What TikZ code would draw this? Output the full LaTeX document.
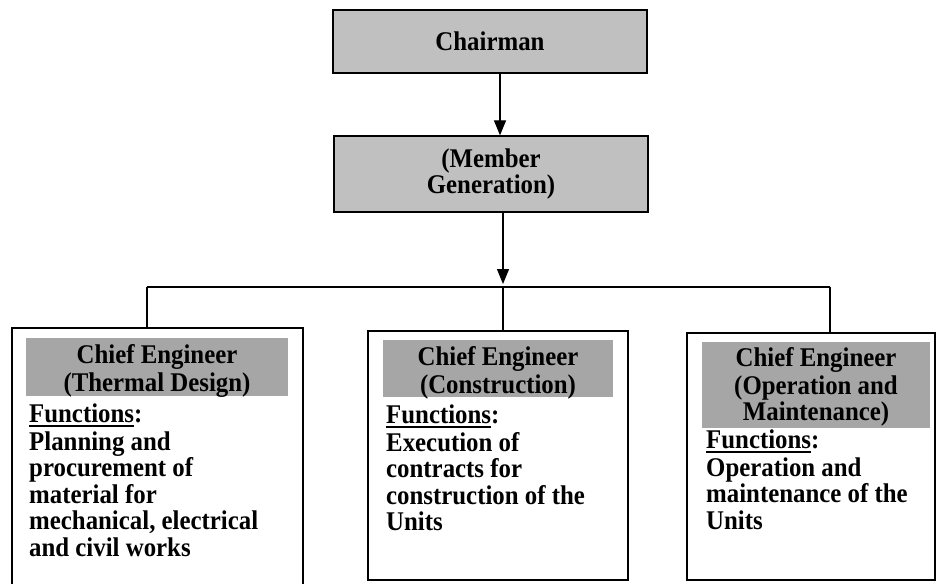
\documentclass[tikz,border=0pt]{standalone}
\usepackage{fontspec}
\setmainfont{Liberation Serif}[FakeStretch=0.92]
\usetikzlibrary{arrows.meta}
\definecolor{topgray}{HTML}{C0C0C0}
\definecolor{hdrgray}{HTML}{A6A6A6}
\newcommand\myul[1]{\setbox0\hbox{#1}\rlap{\rule[-4.5pt]{\wd0}{2.2pt}}\box0}
\begin{document}
\begin{tikzpicture}[x=1pt,y=-1pt,
  txt/.style={font=\bfseries\fontsize{27}{26.5}\selectfont, inner sep=0pt},
  topbox/.style={draw, line width=1.3pt, fill=topgray, inner sep=0pt, align=center,
                 font=\bfseries\fontsize{27}{26}\selectfont},
  unitbox/.style={draw, line width=1.2pt, inner sep=0pt},
  hdrbox/.style={fill=hdrgray, inner sep=0pt},
  conn/.style={line width=1.3pt},
  arr/.style={line width=1.3pt, -{Triangle[width=12pt,length=15pt]}}]
\useasboundingbox (0,0) rectangle (936,583);
\clip (0,0) rectangle (936,583);

% top boxes
\node[topbox, minimum width=314pt, minimum height=63pt] (chair) at (490,41.5) {Chairman};
\node[topbox, minimum width=314pt, minimum height=76pt] (member) at (491,174) {(Member\\Generation)};

% unit boxes
\node[unitbox, minimum width=291pt, minimum height=272pt] (lbox) at (157.5,464) {};
\node[unitbox, minimum width=260pt, minimum height=249pt] (mbox) at (498,455.5) {};
\node[unitbox, minimum width=248pt, minimum height=247pt] (rbox) at (811,456.5) {};

% header fills
\node[hdrbox, minimum width=262pt, minimum height=58pt] (lhdr) at (157,367) {};
\node[hdrbox, minimum width=230pt, minimum height=57pt] (mhdr) at (498,368.5) {};
\node[hdrbox, minimum width=228pt, minimum height=86pt] (rhdr) at (816,385) {};

% header texts
\node[txt, anchor=north, align=center] (lhtxt) at (157,344.5) {\strut Chief Engineer\\(Thermal Design)};
\node[txt, anchor=north, align=center] (mhtxt) at (498,346.5) {\strut Chief Engineer\\(Construction)};
\node[txt, anchor=north, align=center] (rhtxt) at (816,347.5) {\strut Chief Engineer\\(Operation and\\Maintenance)};

% body texts
\node[txt, anchor=north west, align=left] (lbody) at (29,403.5)
  {\strut\myul{Functions}:\\Planning and\\procurement of\\material for\\mechanical, electrical\\and civil works};
\node[txt, anchor=north west, align=left] (mbody) at (386,404.5)
  {\strut\myul{Functions}:\\Execution of\\contracts for\\construction of the\\Units};
\node[txt, anchor=north west, align=left] (rbody) at (706,429.5)
  {\strut\myul{Functions}:\\Operation and\\maintenance of the\\Units};

% connectors
\coordinate (a1) at (500,0);
\coordinate (a2) at (503,284);
\coordinate (bl) at (147,287);
\coordinate (bm) at (503,287);
\coordinate (br) at (830,287);
\draw[arr] (chair.south -| a1) -- (member.north -| a1);
\draw[arr] (member.south -| a2) -- (a2);
\draw[conn] (bl) -- (br);
\draw[conn] (bl) -- (bl |- lbox.north);
\draw[conn] (bm) -- (bm |- mbox.north);
\draw[conn] (br) -- (br |- rbox.north);
\end{tikzpicture}
\end{document}
